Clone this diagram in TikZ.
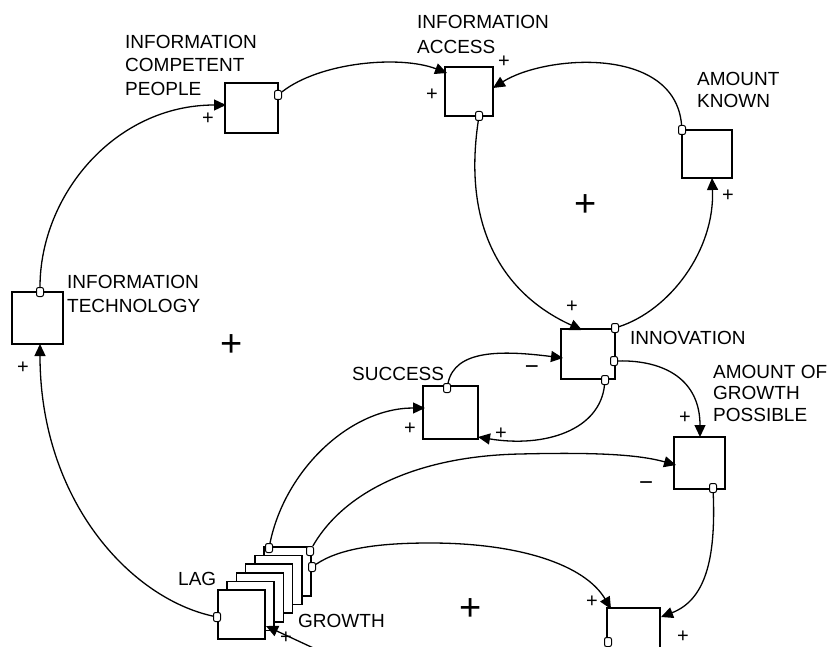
\documentclass[tikz,border=0pt]{standalone}
\usepackage{fontspec}
\setmainfont{Liberation Sans}
\usetikzlibrary{arrows.meta}
\begin{document}
\begin{tikzpicture}[x=1pt,y=-1pt,
  box/.style={draw, fill=white, line width=1.5pt, inner sep=0pt, outer sep=0pt},
  port/.style={draw, fill=white, rounded corners=2pt, minimum width=7pt, minimum height=9pt, inner sep=0pt, line width=1pt},
  link/.style={line width=1.3pt, -{Triangle[length=12pt,width=11pt]}},
  plainlink/.style={line width=1.3pt},
  lbl/.style={font=\fontsize{19}{23.5}\selectfont, anchor=north west, inner sep=0pt, align=left},
  sgn/.style={font=\fontsize{20}{20}\selectfont, inner sep=0pt, anchor=base},
  minussgn/.style={font=\fontsize{24}{24}\selectfont, inner sep=0pt, anchor=base},
  bigsgn/.style={font=\fontsize{38}{38}\selectfont, inner sep=0pt, anchor=base}]
\useasboundingbox (0,0) rectangle (827,647);
\fill[white] (0,0) rectangle (827,647);

% boxes
\node[box, minimum width=53pt, minimum height=50pt] (icp) at (251.5,108) {};
\node[box, minimum width=48pt, minimum height=49pt] (ia) at (469,91.5) {};
\node[box, minimum width=50pt, minimum height=48pt] (ak) at (707,154) {};
\node[box, minimum width=51pt, minimum height=52pt] (it) at (37.5,318) {};
\node[box, minimum width=54pt, minimum height=50pt] (inn) at (588,354) {};
\node[box, minimum width=55pt, minimum height=53pt] (suc) at (450.5,412.5) {};
\node[box, minimum width=51pt, minimum height=52pt] (aogp) at (699.5,463) {};
\node[box, minimum width=53pt, minimum height=84pt] (lr) at (633.5,650) {};
\foreach \i in {5,4,3,2,1,0}{
  \node[box, minimum width=47pt, minimum height=49pt] (g\i) at (241.5+9.2*\i, 614.5-8.6*\i) {};
}

% ports
\node[port] (p1) at (40,292) {};
\node[port] (p2) at (278,95) {};
\node[port] (p3) at (682,130) {};
\node[port] (p4) at (479,116) {};
\node[port] (p5) at (615,328) {};
\node[port] (p6) at (614,361) {};
\node[port] (p7) at (605,380) {};
\node[port] (p8) at (447,388) {};
\node[port] (p9) at (713,488) {};
\node[port] (p10) at (269,548) {};
\node[port] (p11) at (310,551) {};
\node[port] (p12) at (312,567) {};
\node[port] (p13) at (217,617) {};
\node[port] (p14) at (608,642) {};

% arrow targets
\coordinate (ticp) at (226,105);
\coordinate (tia1) at (447,73);
\coordinate (tia2) at (493,88);
\coordinate (tak) at (712,178);
\coordinate (tit) at (40,344);
\coordinate (tinn1) at (582,330);
\coordinate (tinn2) at (563,358);
\coordinate (tsuc1) at (425,408);
\coordinate (tsuc2) at (478,437);
\coordinate (taogp1) at (700,437);
\coordinate (taogp2) at (676,465);
\coordinate (tlr1) at (611,609);
\coordinate (tlr2) at (661,617);
\coordinate (tg) at (266,626);
\coordinate (e1) at (322,652);
\coordinate (e2) at (598,660);

% connectors
\draw[link] (p1) .. controls (40,195) and (115,105) .. (ticp);
\draw[link] (p2) .. controls (320,62) and (400,55) .. (tia1);
\draw[link] (p3) .. controls (675,45) and (545,55) .. (tia2);
\draw[link] (p4) .. controls (462,230) and (505,295) .. (tinn1);
\draw[link] (p5) .. controls (670,310) and (715,250) .. (tak);
\draw[link] (p8) .. controls (455,350) and (500,350) .. (tinn2);
\draw[link] (p7) .. controls (600,430) and (545,448) .. (tsuc2);
\draw[link] (p6) .. controls (665,360) and (700,380) .. (taogp1);
\draw[link] (p10) .. controls (285,470) and (350,408) .. (tsuc1);
\draw[link] (p11) .. controls (345,490) and (420,456) .. (520,454) .. controls (600,452) and (640,455) .. (taogp2);
\draw[link] (p12) .. controls (340,548) and (380,543) .. (430,543) .. controls (520,543) and (585,565) .. (tlr1);
\draw[link] (p9) .. controls (716,560) and (705,600) .. (tlr2);
\draw[link] (p13) .. controls (130,598) and (40,500) .. (tit);
\draw[link] (e1) -- (tg);
\draw[plainlink] (p14) -- (e2);

% labels
\node[lbl] (licp) at (125,35) {INFORMATION\\COMPETENT\\PEOPLE};
\node[lbl, font=\fontsize{19}{25}\selectfont] (lia) at (417,15) {INFORMATION\\ACCESS};
\node[lbl, font=\fontsize{19}{22.5}\selectfont] (lak) at (697,72) {AMOUNT\\KNOWN};
\node[lbl, font=\fontsize{19}{24}\selectfont] (lit) at (67,275) {INFORMATION\\TECHNOLOGY};
\node[lbl] (linn) at (630,331) {INNOVATION};
\node[lbl] (lsuc) at (352,367) {SUCCESS};
\node[lbl, font=\fontsize{19}{21.5}\selectfont] (laogp) at (713,365) {AMOUNT OF\\GROWTH\\POSSIBLE};
\node[lbl] (llag) at (178,572) {LAG};
\node[lbl] (lgr) at (298,614) {GROWTH};

% polarity signs
\node[sgn] (s1) at (208,125) {+};
\node[sgn] (s2) at (432,101) {+};
\node[sgn] (s3) at (504,68) {+};
\node[sgn] (s4) at (728,201) {+};
\node[sgn] (s5) at (23,373) {+};
\node[sgn] (s6) at (572,312) {+};
\node[sgn] (s7) at (410,434) {+};
\node[sgn] (s8) at (501,439) {+};
\node[sgn] (s9) at (685,423) {+};
\node[sgn] (s10) at (592,607) {+};
\node[sgn] (s11) at (683,642) {+};
\node[sgn] (s12) at (286,643) {+};
\node[minussgn] (m1) at (532,374) {−};
\node[minussgn] (m2) at (646,490) {−};
\node[bigsgn] (b1) at (232,356) {+};
\node[bigsgn] (b2) at (586,216) {+};
\node[bigsgn] (b3) at (471,620) {+};
\end{tikzpicture}
\end{document}
